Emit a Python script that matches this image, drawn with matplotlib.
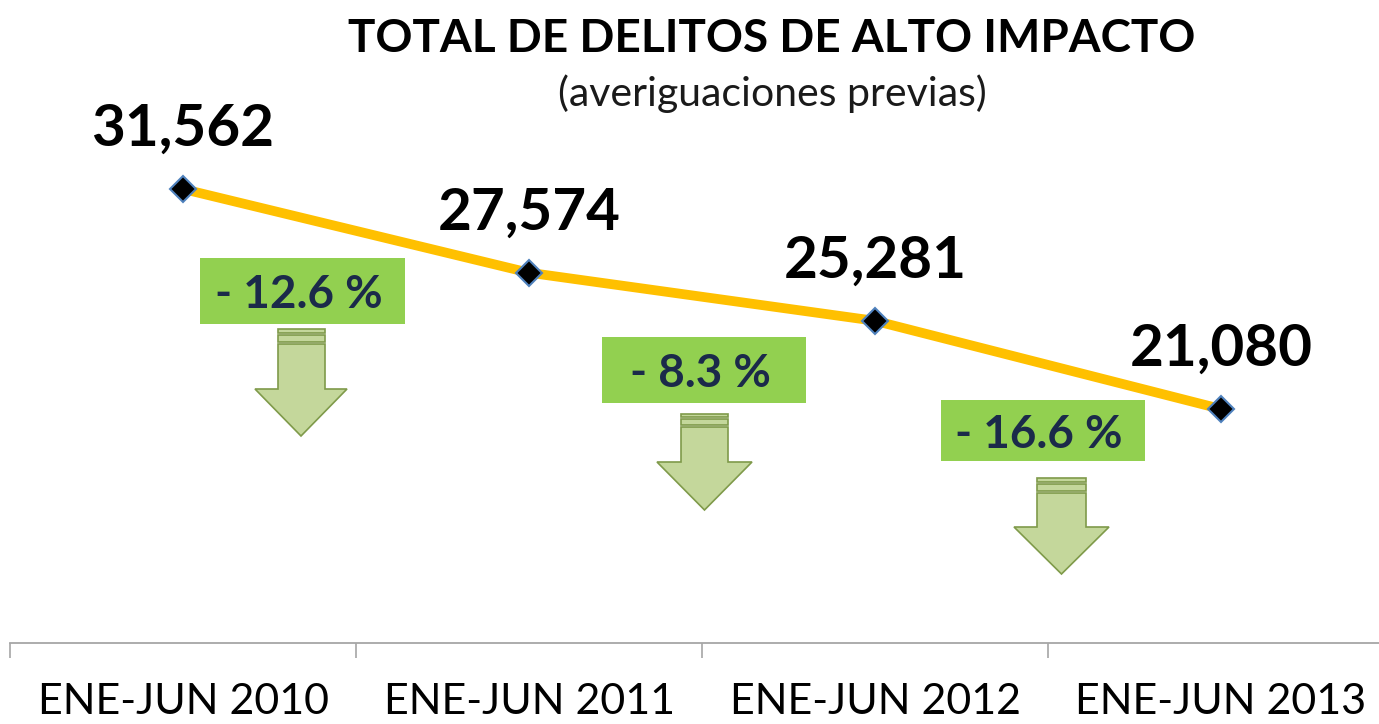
import matplotlib
matplotlib.use("Agg")
import matplotlib.pyplot as plt
from matplotlib.patches import Rectangle, Polygon

# ---- data ----
categories = ["ENE-JUN 2010", "ENE-JUN 2011", "ENE-JUN 2012", "ENE-JUN 2013"]
values = [31562, 27574, 25281, 21080]
pct_change = [-12.6, -8.3, -16.6]
title = "TOTAL DE DELITOS DE ALTO IMPACTO"
subtitle = "(averiguaciones previas)"

W, H = 1379, 724
fig = plt.figure(figsize=(W / 100, H / 100), dpi=100)
fig.patch.set_facecolor("white")

# ---- main axes ----
ax_left, ax_bottom_px = 10, 643
ax = fig.add_axes([ax_left / W, (H - ax_bottom_px) / H, (W - ax_left) / W, ax_bottom_px / H])
ax.patch.set_alpha(0)
for s in ["top", "right", "left"]:
    ax.spines[s].set_visible(False)
ax.spines["bottom"].set_color("#A6A6A6")
ax.spines["bottom"].set_linewidth(1.3)
ax.set_yticks([])

x = list(range(len(categories)))
ax.plot(x, values, color="#FFC000", lw=7, solid_capstyle="butt", zorder=3,
        marker="D", markersize=13, markerfacecolor="black",
        markeredgecolor="#4F81BD", markeredgewidth=1.5)

for xi, v in zip(x, values):
    ax.annotate(f"{v:,}", (xi, v), xytext=(0, 31), textcoords="offset points",
                ha="center", va="baseline", fontsize=42, fontweight="bold",
                family="Lato", color="black", zorder=5)

ax.set_xticks(x)
ax.set_xticklabels(categories, fontsize=31, family="Lato", color="black")
ax.tick_params(axis="x", which="major", length=0, pad=29)
ax.set_xticks([i - 0.5 for i in range(len(categories))], minor=True)
ax.tick_params(axis="x", which="minor", length=11, width=1.2, color="#A6A6A6", direction="out")
ax.set_xlim(-0.5, -0.5 + (W - ax_left) / 346.0)
ax.set_ylim(9931, 40567)

# ---- overlay in pixel coordinates for annotations ----
ov = fig.add_axes([0, 0, 1, 1])
ov.set_xlim(0, W)
ov.set_ylim(H, 0)
ov.axis("off")
ov.patch.set_alpha(0)

ov.text(772, 52, title, ha="center", va="baseline", fontsize=33, fontweight="bold",
        family="Lato", color="black")
ov.text(772, 106, subtitle, ha="center", va="baseline", fontsize=29.5,
        family="Lato", color="#1a1a1a")

box_green = "#92D050"
text_navy = "#1B2A4A"
arrow_fill = "#C4D79B"
arrow_edge = "#7F9A4A"

# box: (x0, y0, x1, y1)
boxes = [(200, 258, 405, 324), (602, 337, 806, 403), (941, 400, 1145, 461)]
# arrow: (shaft_x0, shaft_x1, head_x0, head_x1, bars_top, shaft_top, head_top, tip_y)
arrows = [(278, 325, 255, 347, 329, 344, 389, 436),
          (681, 728, 657, 752, 414, 427, 462, 510),
          (1037, 1086, 1014, 1109, 478, 493, 527, 574)]

for (bx0, by0, bx1, by1), p in zip(boxes, pct_change):
    ov.add_patch(Rectangle((bx0, by0), bx1 - bx0, by1 - by0, facecolor=box_green,
                           edgecolor="none", zorder=2))
    ov.text((bx0 + bx1) / 2 - 4, (by0 + by1) / 2 + 17, f"- {abs(p):.1f} %",
            ha="center", va="baseline", fontsize=33, fontweight="bold",
            family="Lato", color=text_navy, zorder=3)

for sx0, sx1, hx0, hx1, bt, st, ht, ty in arrows:
    tipx = (hx0 + hx1) / 2
    bar_h = (st - bt) / 3.0
    ov.add_patch(Rectangle((sx0, bt), sx1 - sx0, bar_h * 0.8, facecolor=arrow_fill,
                           edgecolor=arrow_edge, lw=1.2, zorder=2))
    ov.add_patch(Rectangle((sx0, bt + bar_h * 1.2), sx1 - sx0, bar_h * 1.3, facecolor=arrow_fill,
                           edgecolor=arrow_edge, lw=1.2, zorder=2))
    pts = [(sx0, st), (sx1, st), (sx1, ht), (hx1, ht), (tipx, ty), (hx0, ht), (sx0, ht)]
    ov.add_patch(Polygon(pts, closed=True, facecolor=arrow_fill, edgecolor=arrow_edge,
                         lw=1.2, zorder=2))

fig.savefig("out.png", dpi=100)
